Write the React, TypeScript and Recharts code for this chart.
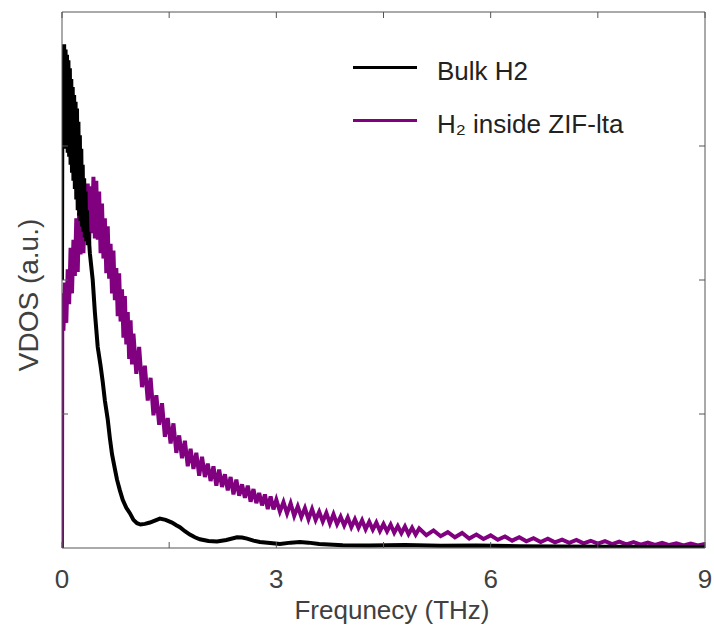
import React from 'react';
import { LineChart, Line, XAxis, YAxis, Legend } from 'recharts';

// [frequency (THz), VDOS (a.u.)]
const bulkH2: [number, number][] = [
  [0, 2.0], [0.005, 3.3], [0.01, 3.62], [0.02, 3.05], [0.03, 3.76], [0.04, 3.0], [0.05, 3.72],
  [0.06, 2.98], [0.07, 3.68], [0.08, 2.95], [0.09, 3.64], [0.1, 2.92], [0.11, 3.58], [0.12, 2.86],
  [0.13, 3.5], [0.14, 2.8], [0.15, 3.44], [0.16, 2.74], [0.17, 3.38], [0.18, 2.68], [0.19, 3.33],
  [0.2, 2.6], [0.21, 3.28], [0.22, 2.52], [0.23, 3.18], [0.24, 2.48], [0.25, 3.08], [0.26, 2.44],
  [0.27, 2.98], [0.28, 2.4], [0.29, 2.86], [0.3, 2.36], [0.31, 2.76], [0.32, 2.32], [0.33, 2.66],
  [0.34, 2.29], [0.35, 2.52], [0.36, 2.26], [0.37, 2.36], [0.39, 2.2], [0.43, 2.0], [0.46, 1.76],
  [0.5, 1.5], [0.54, 1.36], [0.57, 1.24], [0.6, 1.1], [0.64, 0.96], [0.67, 0.82], [0.7, 0.7],
  [0.74, 0.59], [0.77, 0.51], [0.81, 0.43], [0.85, 0.36], [0.9, 0.3], [0.95, 0.26], [1.0, 0.21],
  [1.05, 0.185], [1.1, 0.175], [1.16, 0.18], [1.23, 0.19], [1.3, 0.205], [1.37, 0.22], [1.45, 0.21],
  [1.54, 0.19], [1.6, 0.17], [1.65, 0.155], [1.72, 0.125], [1.79, 0.1], [1.86, 0.08], [1.93, 0.065],
  [2.05, 0.052], [2.17, 0.048], [2.3, 0.06], [2.45, 0.08], [2.52, 0.078], [2.59, 0.07], [2.68, 0.055],
  [2.77, 0.045], [2.95, 0.035], [3.05, 0.03], [3.2, 0.04], [3.33, 0.045], [3.45, 0.04], [3.6, 0.03],
  [3.93, 0.02], [4.3, 0.018], [4.8, 0.022], [5.3, 0.016], [5.8, 0.018], [6.4, 0.013], [7.0, 0.011],
  [7.6, 0.009], [8.3, 0.008], [9.0, 0.006],
];

const zifH2: [number, number][] = [
  [0, 0], [0.004, 1.9],
  [0.02, 1.62], [0.04, 1.98], [0.06, 1.68], [0.08, 2.08], [0.1, 1.82], [0.12, 2.24], [0.14, 1.9],
  [0.16, 2.3], [0.18, 2.03], [0.2, 2.46], [0.22, 2.06], [0.24, 2.5], [0.26, 2.19], [0.28, 2.62],
  [0.3, 2.2], [0.32, 2.63], [0.34, 2.29], [0.36, 2.72], [0.38, 2.27], [0.4, 2.7], [0.42, 2.35],
  [0.44, 2.77], [0.46, 2.31], [0.48, 2.74], [0.5, 2.3], [0.52, 2.66], [0.54, 2.2], [0.56, 2.57],
  [0.58, 2.16], [0.6, 2.46], [0.62, 2.05], [0.64, 2.4], [0.66, 2.01], [0.68, 2.27], [0.7, 1.9],
  [0.72, 2.22], [0.74, 1.85], [0.76, 2.09], [0.78, 1.73], [0.8, 2.05], [0.82, 1.69], [0.84, 1.93],
  [0.86, 1.57], [0.88, 1.88], [0.9, 1.52], [0.92, 1.76], [0.94, 1.41], [0.96, 1.7], [0.98, 1.37],
  [1.0, 1.6], [1.04, 1.3], [1.08, 1.5], [1.12, 1.2], [1.16, 1.36], [1.2, 1.1], [1.24, 1.27],
  [1.28, 0.99], [1.32, 1.14], [1.36, 0.92], [1.4, 1.08], [1.44, 0.83], [1.48, 0.97], [1.52, 0.78],
  [1.56, 0.93], [1.6, 0.71], [1.64, 0.84], [1.68, 0.67], [1.72, 0.8], [1.76, 0.61], [1.8, 0.74],
  [1.84, 0.59], [1.88, 0.71], [1.92, 0.54], [1.96, 0.68], [2.0, 0.53], [2.04, 0.63], [2.08, 0.5],
  [2.12, 0.61], [2.16, 0.465], [2.2, 0.585], [2.24, 0.455], [2.28, 0.55], [2.32, 0.43], [2.36, 0.53],
  [2.4, 0.4], [2.44, 0.51], [2.48, 0.39], [2.52, 0.475], [2.56, 0.375], [2.6, 0.465], [2.64, 0.345],
  [2.68, 0.44], [2.72, 0.335], [2.76, 0.41], [2.8, 0.318], [2.84, 0.4], [2.88, 0.29], [2.92, 0.385],
  [2.96, 0.288], [3.0, 0.36], [3.05, 0.272], [3.1, 0.342], [3.15, 0.258], [3.2, 0.334], [3.25, 0.24],
  [3.3, 0.31], [3.35, 0.232], [3.4, 0.298], [3.45, 0.215], [3.5, 0.29], [3.55, 0.21], [3.6, 0.27],
  [3.65, 0.198], [3.7, 0.262], [3.75, 0.183], [3.8, 0.252], [3.85, 0.178], [3.9, 0.234], [3.95, 0.168],
  [4.0, 0.228], [4.05, 0.156], [4.1, 0.214], [4.15, 0.151], [4.2, 0.207], [4.25, 0.14], [4.3, 0.196],
  [4.35, 0.137], [4.4, 0.19], [4.45, 0.127], [4.5, 0.179], [4.55, 0.124], [4.6, 0.175], [4.65, 0.114],
  [4.7, 0.164], [4.75, 0.111], [4.8, 0.161], [4.85, 0.103], [4.9, 0.151], [4.95, 0.1], [5.0, 0.146],
  [5.1, 0.096], [5.2, 0.131], [5.3, 0.088], [5.4, 0.118], [5.5, 0.08], [5.6, 0.112], [5.7, 0.071],
  [5.8, 0.101], [5.9, 0.067], [6.0, 0.094], [6.1, 0.061], [6.2, 0.086], [6.3, 0.055], [6.4, 0.081],
  [6.5, 0.05], [6.6, 0.073], [6.7, 0.045], [6.8, 0.07], [6.9, 0.042], [7.0, 0.063], [7.1, 0.039],
  [7.2, 0.06], [7.3, 0.035], [7.4, 0.054], [7.5, 0.033], [7.6, 0.051], [7.7, 0.029], [7.8, 0.047],
  [7.9, 0.027], [8.0, 0.044], [8.1, 0.025], [8.2, 0.041], [8.3, 0.023], [8.4, 0.038], [8.5, 0.022],
  [8.6, 0.035], [8.7, 0.02], [8.8, 0.033], [8.9, 0.019], [9.0, 0.03],
];

const xTicks = [0, 1.5, 3, 4.5, 6, 7.5, 9];
const xTickLabels = [0, 3, 6, 9];
const yTicks = [1, 2, 3];
const seriesNames = ['Bulk H2', 'H\u2082 inside ZIF-lta'];
const xLabel = 'Frequnecy (THz)';
const yLabel = 'VDOS (a.u.)';

const toRows = (pts: [number, number][]) => pts.map(([f, v]) => ({ f, v }));
const bulkRows = toRows(bulkH2);
const zifRows = toRows(zifH2);

const W = 714;
const H = 628;
const PL = 62;
const PR = 705;
const PT = 12;
const PB = 548;
const X_AXIS_H = 40;
const M = { top: PT - 1, right: W - PR - 1, bottom: H - PB - X_AXIS_H, left: PL - 1 };
const AXIS = '#555555';
const TXT = '#404040';
const FONT = "Arial, 'Liberation Sans', Helvetica, sans-serif";
const TICK = 6;

const BottomTick = (p: any) => {
  const v = p.payload?.value;
  return (
    <g>
      <line x1={p.x} x2={p.x} y1={PB} y2={PB - TICK} stroke={AXIS} strokeWidth={1} />
      {xTickLabels.includes(v) && (
        <text x={p.x} y={PB + 40} textAnchor="middle" fontSize={26} fontFamily={FONT} fill={TXT}>
          {v}
        </text>
      )}
    </g>
  );
};

const TopTick = (p: any) => (
  <line x1={p.x} x2={p.x} y1={PT} y2={PT + TICK} stroke={AXIS} strokeWidth={1} />
);

const LeftTick = (p: any) => (
  <line x1={PL} x2={PL + TICK} y1={p.y} y2={p.y} stroke={AXIS} strokeWidth={1} />
);

const RightTick = (p: any) => (
  <line x1={PR} x2={PR - TICK} y1={p.y} y2={p.y} stroke={AXIS} strokeWidth={1} />
);

const renderLegend = (props: any) => {
  const items = [...(props.payload || [])].sort(
    (a: any, b: any) => seriesNames.indexOf(a.value) - seriesNames.indexOf(b.value)
  );
  return (
    <div style={{ position: 'relative', width: 320, height: 110, fontFamily: FONT }}>
      {items.map((it: any, i: number) => (
        <div key={i} style={{ position: 'absolute', left: 0, top: i * 53, width: 320, height: 44 }}>
          <div
            style={{ position: 'absolute', left: 0, top: 20.5, width: 64, height: 3, background: it.color }}
          />
          <span
            style={{
              position: 'absolute',
              left: 84,
              top: 4,
              lineHeight: '44px',
              fontSize: 26,
              color: '#222',
              whiteSpace: 'nowrap',
            }}
          >
            {it.value}
          </span>
        </div>
      ))}
    </div>
  );
};

export default function App() {
  return (
    <div style={{ position: 'absolute', left: 0, top: 0, width: W, height: H, background: '#fff' }}>
      <LineChart width={W} height={H} margin={M}>
        <XAxis
          xAxisId="b"
          type="number"
          dataKey="f"
          domain={[0, 9]}
          ticks={xTicks}
          interval={0}
          allowDataOverflow
          height={X_AXIS_H}
          axisLine={{ stroke: AXIS, strokeWidth: 1 }}
          tickLine={false}
          tick={(p: any) => <BottomTick {...p} />}
        />
        <XAxis
          xAxisId="t"
          orientation="top"
          type="number"
          dataKey="f"
          domain={[0, 9]}
          ticks={xTicks}
          interval={0}
          allowDataOverflow
          height={1}
          axisLine={{ stroke: AXIS, strokeWidth: 1 }}
          tickLine={false}
          tick={(p: any) => <TopTick {...p} />}
        />
        <YAxis
          yAxisId="l"
          type="number"
          domain={[0, 4]}
          ticks={yTicks}
          interval={0}
          allowDataOverflow
          width={1}
          axisLine={{ stroke: AXIS, strokeWidth: 1 }}
          tickLine={false}
          tick={(p: any) => <LeftTick {...p} />}
        />
        <YAxis
          yAxisId="r"
          orientation="right"
          type="number"
          domain={[0, 4]}
          ticks={yTicks}
          interval={0}
          allowDataOverflow
          width={1}
          axisLine={{ stroke: AXIS, strokeWidth: 1 }}
          tickLine={false}
          tick={(p: any) => <RightTick {...p} />}
        />
        <Line
          xAxisId="b"
          yAxisId="l"
          data={zifRows}
          dataKey="v"
          name={seriesNames[1]}
          type="linear"
          stroke="#800080"
          strokeWidth={4}
          dot={false}
          activeDot={false}
          isAnimationActive={false}
        />
        <Line
          xAxisId="b"
          yAxisId="l"
          data={bulkRows}
          dataKey="v"
          name={seriesNames[0]}
          type="linear"
          stroke="#000000"
          strokeWidth={4}
          dot={false}
          activeDot={false}
          isAnimationActive={false}
        />
        <Legend
          layout="horizontal"
          verticalAlign="middle"
          align="center"
          content={renderLegend}
          wrapperStyle={{ position: 'absolute', left: 353, top: 45, width: 320, height: 110 }}
        />
        <text x={392} y={619} textAnchor="middle" fontSize={26} fontFamily={FONT} fill={TXT}>
          {xLabel}
        </text>
        <text
          transform="translate(28 295) rotate(-90)"
          textAnchor="middle"
          dy="0.35em"
          fontSize={28}
          fontFamily={FONT}
          fill={TXT}
        >
          {yLabel}
        </text>
      </LineChart>
    </div>
  );
}
